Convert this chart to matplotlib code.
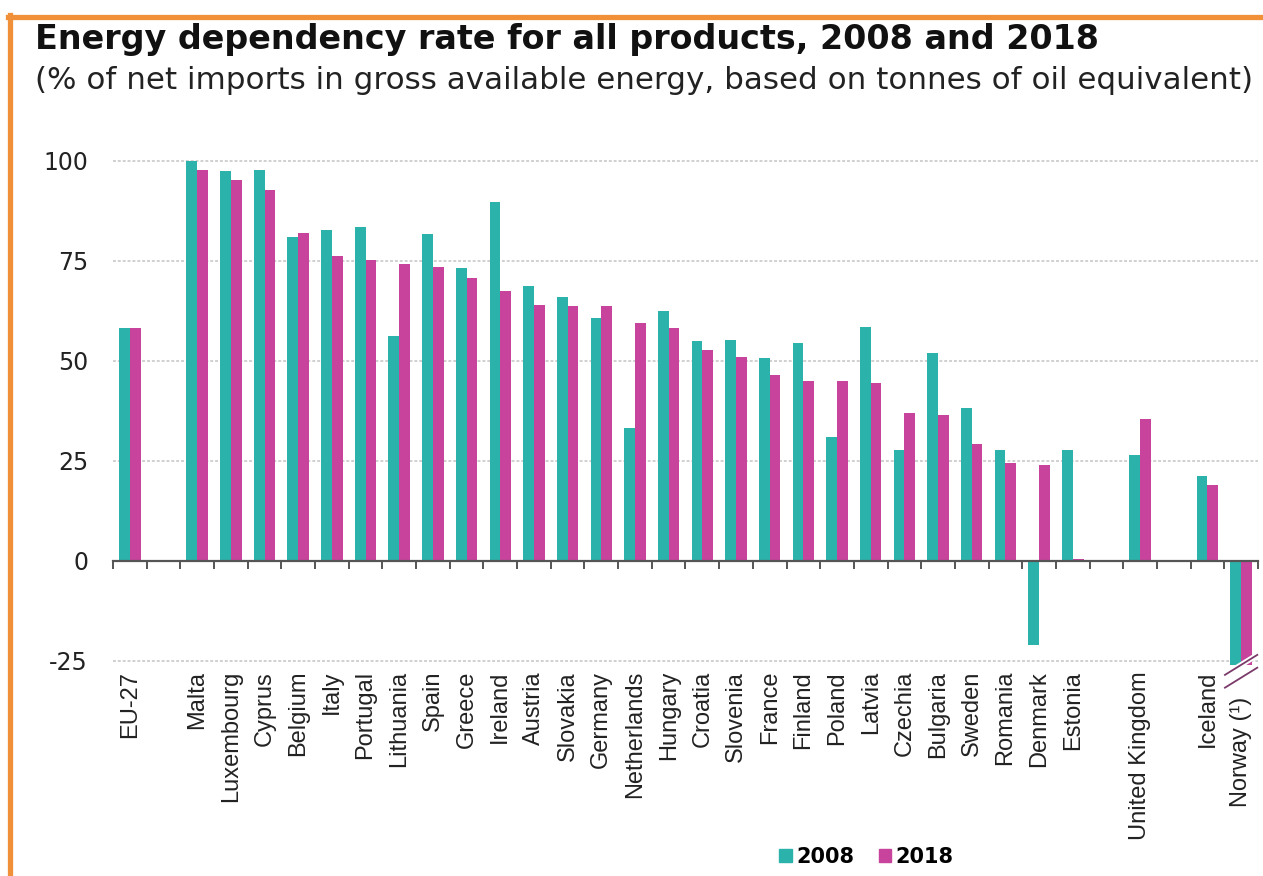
import matplotlib
matplotlib.use("Agg")
import matplotlib.pyplot as plt
from matplotlib.patches import Patch
from matplotlib.lines import Line2D
import numpy as np

plt.rcParams['font.family'] = ['Liberation Sans', 'DejaVu Sans']

# slots: '' marks an empty gap between groups
countries = ['EU-27', '', 'Malta', 'Luxembourg', 'Cyprus', 'Belgium', 'Italy', 'Portugal',
             'Lithuania', 'Spain', 'Greece', 'Ireland', 'Austria', 'Slovakia', 'Germany',
             'Netherlands', 'Hungary', 'Croatia', 'Slovenia', 'France', 'Finland', 'Poland',
             'Latvia', 'Czechia', 'Bulgaria', 'Sweden', 'Romania', 'Denmark', 'Estonia', '',
             'United Kingdom', '', 'Iceland', 'Norway (¹)']
rate_2008 = [58.3, np.nan, 100.0, 97.5, 97.7, 81.0, 82.7, 83.5,
             56.2, 81.7, 73.2, 89.7, 68.7, 66.0, 60.7,
             33.2, 62.5, 55.0, 55.2, 50.7, 54.5, 31.0,
             58.5, 27.7, 52.0, 38.2, 27.7, -21.0, 27.7, np.nan,
             26.5, np.nan, 21.2, -641.0]
rate_2018 = [58.2, np.nan, 97.7, 95.2, 92.7, 82.0, 76.3, 75.3,
             74.2, 73.5, 70.7, 67.5, 64.0, 63.7, 63.6,
             59.5, 58.2, 52.7, 51.0, 46.5, 45.0, 45.0,
             44.5, 37.0, 36.5, 29.2, 24.5, 24.0, 0.5, np.nan,
             35.5, np.nan, 19.0, -591.0]

c08 = '#2bb3ab'
c18 = '#c8449c'

fig = plt.figure(figsize=(12.63, 8.76), dpi=100)
ax = fig.add_axes([0.0895, 0.241, 0.9065, 0.58])

x = np.arange(len(countries))
w = 0.32
ax.bar(x - w / 2, rate_2008, w, color=c08, zorder=3)
ax.bar(x + w / 2, rate_2018, w, color=c18, zorder=3)

ax.set_xlim(-0.5, len(countries) - 0.5)
ax.set_ylim(-26, 101)
ax.set_yticks([-25, 0, 25, 50, 75, 100])
ax.set_yticklabels(['-25', '0', '25', '50', '75', '100'], family='DejaVu Sans')
ax.tick_params(axis='y', length=0, labelsize=17, pad=18, colors='#222222')

# dotted horizontal grid
for v in [-25, 25, 50, 75, 100]:
    ax.axhline(v, color='#d0d0d0', lw=1.4, ls=(0, (1.5, 1)), zorder=1)

for s in ['top', 'right', 'left']:
    ax.spines[s].set_visible(False)
ax.spines['bottom'].set_position(('data', 0))
ax.spines['bottom'].set_color('#555555')
ax.spines['bottom'].set_linewidth(1.6)
ax.spines['bottom'].set_zorder(4)
ax.set_xticks(np.arange(len(countries) + 1) - 0.5)
ax.set_xticklabels([])
ax.tick_params(axis='x', direction='out', length=6, width=1.4, color='#555555')

# category names sit below the -25 line (Norway's clears the break marks)
for i, name in enumerate(countries):
    if name:
        y0 = -34 if name.startswith('Norway') else -27.5
        ax.text(i, y0, name, rotation=90, ha='center', va='top', fontsize=17,
                color='#222222', clip_on=False)

# break marks on the clipped Norway bars
n = len(countries) - 1
for dy in [0, -3.2]:
    ax.plot([n - 0.48, n + 0.48], [-28.5 + dy, -23.5 + dy], color='white', lw=4,
            clip_on=False, zorder=5, solid_capstyle='butt')
    ax.plot([n - 0.48, n + 0.48], [-28.5 + dy, -23.5 + dy], color='#7a3a6a', lw=1.3,
            clip_on=False, zorder=6)

fig.text(0.028, 0.955, 'Energy dependency rate for all products, 2008 and 2018',
         fontsize=24, fontweight='bold', color='#111111', va='center', family='DejaVu Sans')
fig.text(0.028, 0.908, '(% of net imports in gross available energy, based on tonnes of oil equivalent)',
         fontsize=22.3, color='#222222', va='center', family='DejaVu Sans')

handles = [Patch(color=c08), Patch(color=c18)]
leg = fig.legend(handles, ['2008', '2018'], loc='center', bbox_to_anchor=(0.686, 0.022),
                 ncol=2, frameon=False, handlelength=0.6, handleheight=0.6,
                 handletextpad=0.2, columnspacing=1.2,
                 prop={'size': 15, 'weight': 'bold', 'family': 'DejaVu Sans'})

# orange frame along the top and left edges
fig.add_artist(Line2D([8 / 1263, 1], [1 - 17 / 876, 1 - 17 / 876], color='#f0913a', lw=3.8,
                      transform=fig.transFigure))
fig.add_artist(Line2D([10 / 1263, 10 / 1263], [0, 1 - 15 / 876], color='#f0913a', lw=3.8,
                      transform=fig.transFigure))

fig.savefig('out.png', dpi=100)
